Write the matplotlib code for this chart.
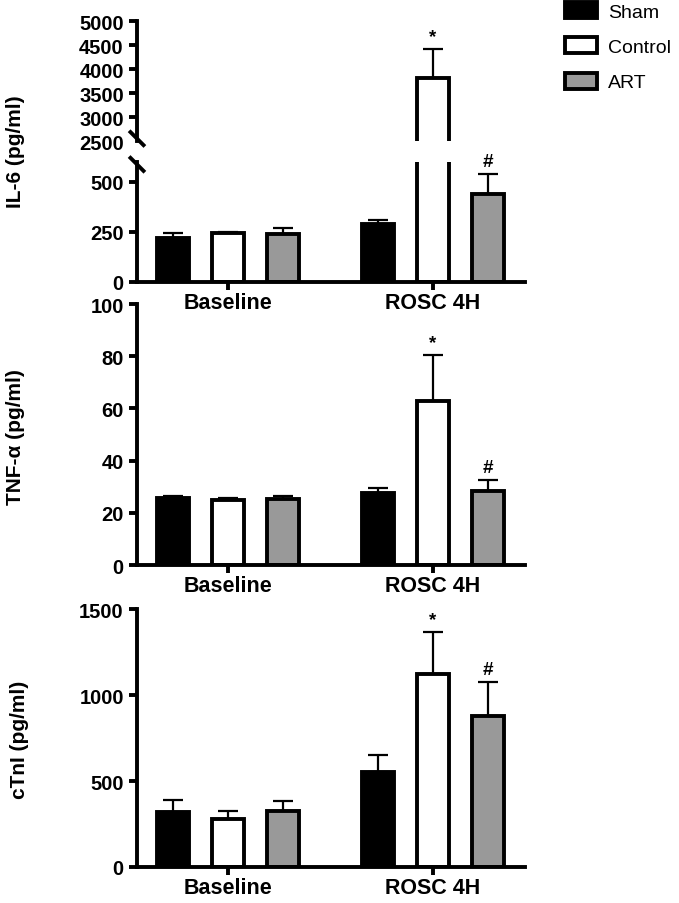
import matplotlib.pyplot as plt
import numpy as np

plt.rcParams['font.family'] = ['Liberation Sans', 'DejaVu Sans']
plt.rcParams['font.weight'] = 'bold'

groups = ["Baseline", "ROSC 4H"]
series = ["Sham", "Control", "ART"]
fills = ["black", "white", "#999999"]

# values per series: [Baseline, ROSC 4H]
il6_mean = [[220, 290], [243, 3810], [240, 440]]
il6_err = [[25, 20], [8, 600], [30, 100]]
tnf_mean = [[25.7, 27.5], [24.9, 63.0], [25.3, 28.5]]
tnf_err = [[0.8, 2.0], [0.9, 17.5], [1.3, 4.0]]
ctni_mean = [[320, 552], [279, 1122], [326, 878]]
ctni_err = [[70, 100], [47, 244], [58, 198]]
marks = {"Control": "*", "ART": "#"}

W, H = 679, 904
fig = plt.figure(figsize=(W / 100, H / 100), dpi=100)

def px_axes(x0, x1, ytop, ybot):
    ax = fig.add_axes([x0 / W, 1 - ybot / H, (x1 - x0) / W, (ybot - ytop) / H])
    ax.patch.set_visible(False)
    return ax

centers = np.arange(len(groups))
offs = [-0.268, 0.0, 0.268]
bw = 0.16
LW = 2.8

def draw(ax, means, errs, ylim):
    for i, name in enumerate(series):
        x = centers + offs[i]
        m = np.array(means[i])
        e = np.array(errs[i])
        ax.bar(x, m, width=bw, color=fills[i], edgecolor="black", linewidth=LW,
               zorder=2, label=name)
        ax.errorbar(x, m, yerr=[np.zeros_like(e), e], fmt="none", ecolor="black",
                    elinewidth=1.6, capsize=7, capthick=1.6, zorder=1)
        if name in marks:
            top = m[1] + e[1]
            if ylim[0] <= top <= ylim[1]:
                ax.annotate(marks[name], (x[1], top), xytext=(0, 3),
                            textcoords="offset points", ha="center", va="bottom",
                            fontsize=13.5, fontweight="bold")
    ax.set_ylim(*ylim)
    ax.set_xlim(-0.444, 1.449)
    for s in ["top", "right"]:
        ax.spines[s].set_visible(False)
    for s in ["left", "bottom"]:
        ax.spines[s].set_linewidth(LW)
    ax.tick_params(width=LW, length=6, labelsize=14.5, direction="out")

def yticks(ax, vals):
    ax.set_yticks(vals)
    ax.set_yticklabels([str(v) for v in vals], fontweight="bold")

def xaxis(ax):
    ax.set_xticks(centers)
    ax.set_xticklabels(groups, fontsize=15.5, fontweight="bold")
    ax.tick_params(axis="x", pad=1)

def ylabel(ax, text, xr, yc):
    ax.set_ylabel(text, fontsize=15, fontweight="bold")
    ax.yaxis.set_label_coords(xr / W, 1 - yc / H, transform=fig.transFigure)

# IL-6 with broken axis
ax_hi = px_axes(137, 525, 22, 142)
ax_lo = px_axes(137, 525, 163, 283)
draw(ax_hi, il6_mean, il6_err, (2500, 5000))
draw(ax_lo, il6_mean, il6_err, (0, 600))
yticks(ax_hi, list(range(2500, 5001, 500)))
ax_hi.yaxis.get_major_ticks()[0].tick1line.set_visible(False)
ax_hi.spines["bottom"].set_visible(False)
ax_hi.set_xticks([])
yticks(ax_lo, [0, 250, 500])
xaxis(ax_lo)
for ax, yc in [(ax_hi, 0.0), (ax_lo, 1.0)]:
    dx, dy = 6.5 / 388, 6.5 / 120
    yoff = 0.02 if yc == 0 else -0.02
    ax.plot([-dx, dx], [yc + yoff + dy, yc + yoff - dy], transform=ax.transAxes,
            color="black", lw=LW, clip_on=False)
ylabel(ax_lo, "IL-6 (pg/ml)", 25, 152)

# TNF-alpha
ax_tnf = px_axes(137, 525, 305, 566)
draw(ax_tnf, tnf_mean, tnf_err, (0, 100))
yticks(ax_tnf, list(range(0, 101, 20)))
xaxis(ax_tnf)
ylabel(ax_tnf, "TNF-α (pg/ml)", 25, 437)

# cTnI
ax_ct = px_axes(137, 525, 610, 868)
draw(ax_ct, ctni_mean, ctni_err, (0, 1500))
yticks(ax_ct, [0, 500, 1000, 1500])
xaxis(ax_ct)
ylabel(ax_ct, "cTnI (pg/ml)", 29, 740)

handles, labels = ax_ct.get_legend_handles_labels()
fig.legend(handles, labels, loc="upper left", bbox_to_anchor=(565 / W, 1 - 3 / H),
           frameon=False, prop={"weight": "normal", "size": 14},
           handlelength=1.65, handleheight=0.9, handletextpad=0.57,
           labelspacing=0.85, borderpad=0, borderaxespad=0)

fig.savefig("out.png", dpi=100)
